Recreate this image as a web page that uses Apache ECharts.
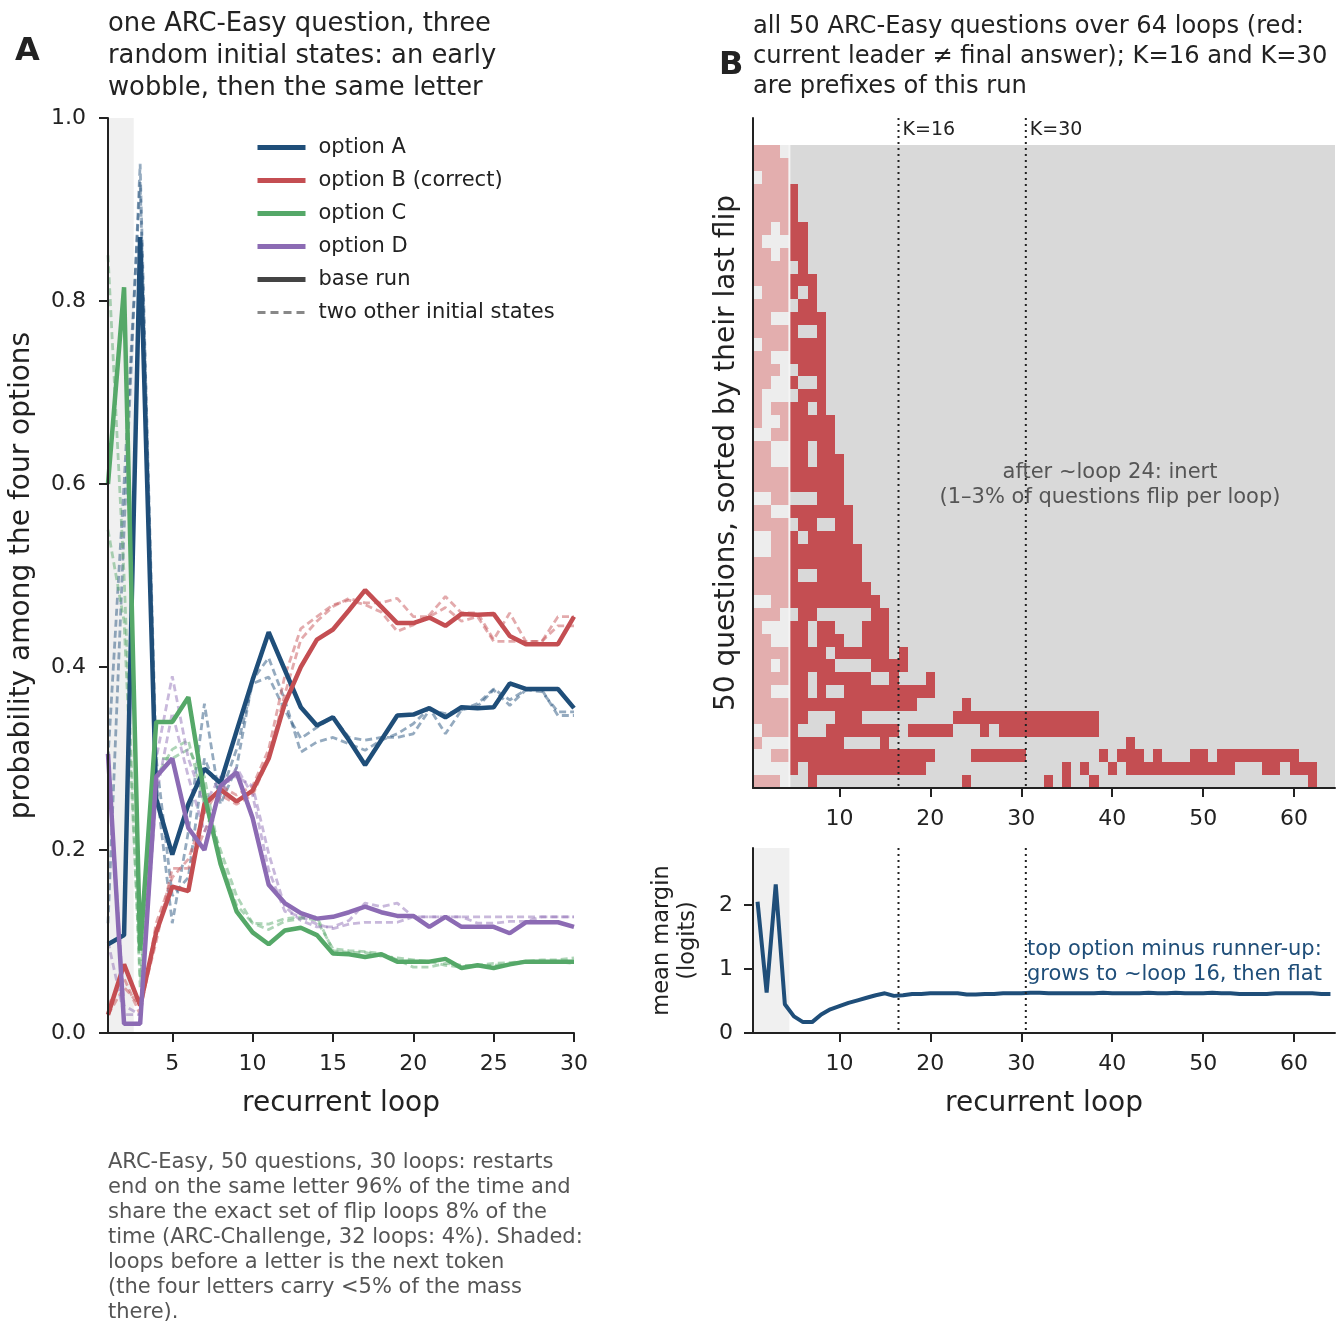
<!DOCTYPE html>
<html>
<head>
<meta charset="utf-8">
<script src="https://cdn.jsdelivr.net/npm/echarts@6/dist/echarts.min.js"></script>
<style>
  html, body { margin: 0; padding: 0; background: #fff; }
  #chart { width: 1344px; height: 1337px; }
</style>
</head>
<body>
<div id="chart"></div>
<script>
// ---- panel A: one question, 30 loops, base run + two restarts ----
const loopsA = [1, 2, 3, 4, 5, 6, 7, 8, 9, 10, 11, 12, 13, 14, 15, 16, 17, 18, 19, 20, 21, 22, 23, 24, 25, 26, 27, 28, 29, 30];
const optionNames = ['option A', 'option B (correct)', 'option C', 'option D'];

const baseA = [0.097, 0.107, 0.87, 0.256, 0.195, 0.25, 0.289, 0.273, 0.33, 0.386, 0.438, 0.397, 0.356, 0.336, 0.345, 0.32, 0.293, 0.32, 0.347, 0.348, 0.355, 0.345, 0.356, 0.355, 0.356, 0.382, 0.376, 0.376, 0.376, 0.355];
const baseB = [0.02, 0.075, 0.03, 0.11, 0.16, 0.155, 0.25, 0.266, 0.253, 0.265, 0.30, 0.36, 0.40, 0.43, 0.441, 0.462, 0.484, 0.466, 0.448, 0.448, 0.454, 0.445, 0.458, 0.457, 0.458, 0.434, 0.425, 0.425, 0.425, 0.455];
const baseC = [0.6, 0.815, 0.09, 0.34, 0.34, 0.367, 0.26, 0.185, 0.133, 0.11, 0.097, 0.112, 0.115, 0.107, 0.087, 0.086, 0.083, 0.086, 0.078, 0.078, 0.078, 0.081, 0.071, 0.074, 0.071, 0.075, 0.078, 0.078, 0.078, 0.078];
const baseD = [0.305, 0.01, 0.01, 0.28, 0.30, 0.224, 0.20, 0.27, 0.285, 0.235, 0.162, 0.142, 0.131, 0.125, 0.127, 0.132, 0.138, 0.132, 0.128, 0.128, 0.116, 0.127, 0.116, 0.116, 0.116, 0.109, 0.121, 0.121, 0.121, 0.116];

const restart1A = [0.12, 0.55, 0.95, 0.27, 0.12, 0.22, 0.36, 0.25, 0.29, 0.386, 0.41, 0.364, 0.307, 0.318, 0.323, 0.316, 0.309, 0.32, 0.327, 0.338, 0.355, 0.327, 0.353, 0.357, 0.375, 0.358, 0.375, 0.375, 0.347, 0.347];
const restart2A = [0.3, 0.6, 0.93, 0.3, 0.15, 0.17, 0.30, 0.26, 0.31, 0.382, 0.389, 0.353, 0.322, 0.334, 0.345, 0.323, 0.32, 0.323, 0.323, 0.327, 0.353, 0.349, 0.353, 0.36, 0.376, 0.364, 0.375, 0.373, 0.351, 0.351];
const restart1B = [0.03, 0.06, 0.02, 0.12, 0.17, 0.19, 0.24, 0.27, 0.26, 0.27, 0.31, 0.39, 0.442, 0.455, 0.468, 0.473, 0.468, 0.46, 0.439, 0.446, 0.457, 0.477, 0.459, 0.459, 0.43, 0.459, 0.428, 0.428, 0.455, 0.455];
const restart2B = [0.02, 0.05, 0.03, 0.10, 0.18, 0.18, 0.22, 0.26, 0.25, 0.26, 0.30, 0.37, 0.43, 0.45, 0.466, 0.475, 0.47, 0.47, 0.475, 0.455, 0.455, 0.465, 0.45, 0.455, 0.428, 0.428, 0.428, 0.428, 0.445, 0.445];
const restart1C = [0.85, 0.5, 0.05, 0.30, 0.30, 0.31, 0.28, 0.19, 0.14, 0.12, 0.119, 0.125, 0.127, 0.123, 0.092, 0.09, 0.089, 0.087, 0.08, 0.072, 0.072, 0.076, 0.074, 0.074, 0.076, 0.077, 0.078, 0.078, 0.078, 0.076];
const restart2C = [0.55, 0.45, 0.06, 0.28, 0.31, 0.32, 0.25, 0.20, 0.15, 0.12, 0.113, 0.122, 0.125, 0.127, 0.09, 0.088, 0.088, 0.084, 0.082, 0.08, 0.078, 0.074, 0.072, 0.073, 0.074, 0.075, 0.078, 0.08, 0.08, 0.082];
const restart1D = [0.1, 0.02, 0.02, 0.30, 0.39, 0.30, 0.25, 0.28, 0.28, 0.27, 0.196, 0.138, 0.123, 0.116, 0.116, 0.123, 0.142, 0.138, 0.142, 0.127, 0.127, 0.127, 0.127, 0.12, 0.12, 0.122, 0.122, 0.127, 0.127, 0.127];
const restart2D = [0.3, 0.03, 0.02, 0.26, 0.35, 0.28, 0.22, 0.26, 0.29, 0.26, 0.178, 0.133, 0.127, 0.119, 0.114, 0.119, 0.121, 0.121, 0.121, 0.127, 0.127, 0.127, 0.127, 0.127, 0.127, 0.127, 0.127, 0.127, 0.127, 0.127];

// ---- panel B: 50 questions x 64 loops, red runs [first loop, last loop] per row ----
const redRuns = [
  [[1, 3]],
  [[1, 4]],
  [[2, 4]],
  [[1, 5]],
  [[1, 5]],
  [[1, 5]],
  [[1, 2], [4, 6]],
  [[1, 1], [5, 6]],
  [[1, 2], [4, 6]],
  [[1, 4], [6, 6]],
  [[1, 7]],
  [[2, 5], [7, 7]],
  [[1, 4], [6, 7]],
  [[1, 2], [5, 8]],
  [[1, 5], [8, 8]],
  [[2, 8]],
  [[1, 2], [5, 8]],
  [[1, 3], [6, 8]],
  [[1, 2], [5, 5], [8, 8]],
  [[1, 1], [6, 8]],
  [[1, 1], [3, 6], [8, 8]],
  [[1, 1], [4, 9]],
  [[3, 9]],
  [[1, 2], [5, 6], [8, 9]],
  [[1, 2], [5, 6], [8, 10]],
  [[1, 10]],
  [[1, 10]],
  [[3, 4], [8, 10]],
  [[1, 2], [5, 11]],
  [[1, 4], [6, 7], [10, 11]],
  [[3, 5], [7, 11]],
  [[3, 12]],
  [[1, 12]],
  [[1, 5], [8, 12]],
  [[1, 13]],
  [[3, 14]],
  [[1, 3], [6, 7], [14, 15]],
  [[1, 1], [5, 6], [8, 9], [13, 15]],
  [[1, 2], [5, 6], [8, 10], [13, 15]],
  [[1, 8], [10, 15], [17, 17]],
  [[1, 2], [4, 9], [14, 17]],
  [[1, 6], [8, 13], [16, 16], [20, 20]],
  [[1, 2], [5, 6], [8, 8], [11, 20]],
  [[1, 18], [24, 24]],
  [[1, 6], [10, 12], [23, 38]],
  [[2, 5], [9, 16], [18, 22], [26, 26], [28, 38]],
  [[1, 1], [5, 10], [15, 15], [42, 42]],
  [[3, 20], [25, 30], [39, 39], [41, 43], [45, 45], [49, 50], [52, 60]],
  [[5, 5], [7, 19], [35, 35], [37, 37], [40, 40], [42, 53], [57, 58], [60, 62]],
  [[1, 3], [7, 7], [24, 24], [33, 33], [35, 35], [38, 38], [62, 62]],
];
const nLoopsB = 64;
const shadedLoopsB = 4;      // loops before a letter is the next token
const kLoops = [16, 30];
const kLabels = ['K=16', 'K=30'];

// mean margin (logits), loops 1..64
const meanMargin = [2.05, 0.63, 2.32, 0.45, 0.26, 0.17, 0.17, 0.29, 0.37, 0.42, 0.47, 0.51, 0.55, 0.59, 0.62, 0.58, 0.59, 0.61, 0.61, 0.62, 0.62, 0.62, 0.62, 0.60, 0.60, 0.61, 0.61, 0.62, 0.62, 0.62, 0.63, 0.63, 0.62, 0.62, 0.62, 0.62, 0.62, 0.62, 0.63, 0.62, 0.62, 0.62, 0.62, 0.63, 0.62, 0.62, 0.63, 0.62, 0.62, 0.62, 0.63, 0.62, 0.62, 0.61, 0.61, 0.61, 0.61, 0.62, 0.62, 0.62, 0.62, 0.62, 0.61, 0.61];

// ---- styling ----
const FONT = 'DejaVu Sans';
const INK = '#222';
const COLORS = ['#1f4e79', '#c44e52', '#55a868', '#8c6bb4'];
const RED = '#c44e52', RED_LIGHT = '#e3aeae', GRAY = '#d9d9d9', GRAY_LIGHT = '#ededed';

(function () {
  const chart = echarts.init(document.getElementById('chart'), null, { renderer: 'canvas' });

  const axisBase = {
    z: 10,
    axisLine: { show: true, onZero: false, lineStyle: { color: INK, width: 2 } },
    axisTick: { show: true, length: 9, lineStyle: { color: INK, width: 2 } },
    axisLabel: { color: INK, fontSize: 22, fontFamily: FONT, margin: 20 },
    splitLine: { show: false },
    nameTextStyle: { color: INK, fontFamily: FONT, fontSize: 28 },
  };
  const withTicks = (vals, extraLabel) => ({
    axisTick: Object.assign({}, axisBase.axisTick, { customValues: vals }),
    axisLabel: Object.assign({}, axisBase.axisLabel, { customValues: vals }, extraLabel || {}),
  });

  const bases = [baseA, baseB, baseC, baseD];
  const restarts = [[restart1A, restart2A], [restart1B, restart2B], [restart1C, restart2C], [restart1D, restart2D]];

  const series = [];
  // shaded early loops in panel A
  series.push({
    type: 'line', name: 'shadeA', xAxisIndex: 0, yAxisIndex: 0, z: 1, data: [], silent: true,
    markArea: { silent: true, itemStyle: { color: '#f0f0f0' }, data: [[{ xAxis: 1 }, { xAxis: 2.6 }]] },
  });
  restarts.forEach((pair, i) => {
    pair.forEach((vals, j) => {
      series.push({
        type: 'line', name: optionNames[i] + ' restart ' + (j + 1),
        xAxisIndex: 0, yAxisIndex: 0, z: 2,
        data: vals.map((v, k) => [loopsA[k], v]),
        symbol: 'none', silent: true,
        lineStyle: { color: COLORS[i], width: 2.8, type: [7, 4], opacity: 0.48 },
      });
    });
  });
  bases.forEach((vals, i) => {
    series.push({
      type: 'line', name: optionNames[i],
      xAxisIndex: 0, yAxisIndex: 0, z: 3,
      data: vals.map((v, k) => [loopsA[k], v]),
      symbol: 'none', color: COLORS[i],
      lineStyle: { color: COLORS[i], width: 4.5 },
    });
  });
  series.push({ type: 'line', name: 'base run', xAxisIndex: 0, yAxisIndex: 0, data: [], symbol: 'none',
    color: '#444', lineStyle: { color: '#444', width: 4.5 } });
  series.push({ type: 'line', name: 'two other initial states', xAxisIndex: 0, yAxisIndex: 0, data: [], symbol: 'none',
    color: '#888', lineStyle: { color: '#888', width: 3, type: [8, 5] } });

  // heatmap cells
  const cells = [];
  redRuns.forEach((runs, r) => {
    for (let loop = 1; loop <= nLoopsB; loop++) {
      const red = runs.some(([a, b]) => loop >= a && loop <= b) ? 1 : 0;
      cells.push([loop, r + 1, red]);
    }
  });
  series.push({
    type: 'custom', name: 'flips', xAxisIndex: 1, yAxisIndex: 1, z: 2, silent: true,
    data: cells,
    renderItem: function (params, api) {
      const x = api.value(0), y = api.value(1), red = api.value(2);
      const p0 = api.coord([x - 0.5, y - 0.5]);
      const p1 = api.coord([x + 0.5, y + 0.5]);
      const x0 = Math.round(Math.min(p0[0], p1[0])), x1 = Math.round(Math.max(p0[0], p1[0]));
      const y0 = Math.round(Math.min(p0[1], p1[1])), y1 = Math.round(Math.max(p0[1], p1[1]));
      const early = x <= shadedLoopsB;
      const fill = red ? (early ? RED_LIGHT : RED) : (early ? GRAY_LIGHT : GRAY);
      return { type: 'rect', shape: { x: x0, y: y0, width: x1 - x0, height: y1 - y0 }, style: { fill: fill } };
    },
  });
  // edge of the shaded band in the heatmap
  series.push({
    type: 'custom', name: 'shadeEdge', xAxisIndex: 1, yAxisIndex: 1, z: 3, silent: true,
    data: [[shadedLoopsB + 0.5]],
    renderItem: function (params, api) {
      const a = api.coord([api.value(0), 0.5]);
      const b = api.coord([api.value(0), redRuns.length + 0.5]);
      return { type: 'line', shape: { x1: a[0], y1: a[1], x2: b[0], y2: b[1] }, style: { stroke: '#f4f4f4', lineWidth: 2 } };
    },
  });
  // K markers (top panel with label, bottom panel line only)
  [1, 2].forEach((gi) => {
    series.push({
      type: 'custom', name: 'kmarks' + gi, xAxisIndex: gi, yAxisIndex: gi, z: 5, silent: true,
      data: kLoops.map((k, i) => [k + 0.5, i]),
      renderItem: function (params, api) {
        const cs = params.coordSys;
        const px = api.coord([api.value(0), 1])[0];
        const children = [{
          type: 'line',
          shape: { x1: px, y1: cs.y, x2: px, y2: cs.y + cs.height },
          style: { stroke: '#222', lineWidth: 2, lineDash: [2, 4] },
        }];
        if (gi === 1) {
          children.push({
            type: 'text', x: px + 4, y: cs.y + 12,
            style: { text: kLabels[api.value(1)], fill: INK, font: '19px "' + FONT + '"', textVerticalAlign: 'middle' },
          });
        }
        return { type: 'group', children: children };
      },
    });
  });
  // margin line
  series.push({
    type: 'line', name: 'mean margin', xAxisIndex: 2, yAxisIndex: 2, z: 3,
    data: meanMargin.map((v, i) => [i + 1, v]), symbol: 'none',
    lineStyle: { color: '#1f4e79', width: 4 },
    markArea: { silent: true, z: 1, itemStyle: { color: '#f0f0f0' }, data: [[{ xAxis: 0.5 }, { xAxis: shadedLoopsB + 0.5 }]] },
  });

  const text = (t, x, y, size, fill, extra) => ({
    type: 'text', x: x, y: y, silent: true, z: 100,
    style: Object.assign({ text: t, fill: fill || INK, font: size + 'px "' + FONT + '"' }, extra || {}),
  });

  chart.setOption({
    animation: false,
    backgroundColor: '#fff',
    textStyle: { fontFamily: FONT },
    grid: [
      { left: 108, top: 118, width: 466, height: 915 },
      { left: 753, top: 118, width: 582, height: 670 },
      { left: 753, top: 848, width: 582, height: 185 },
    ],
    xAxis: [
      Object.assign({}, axisBase, { gridIndex: 0, type: 'value', min: 1, max: 30, position: 'bottom',
        name: 'recurrent loop', nameLocation: 'middle', nameGap: 57 }, withTicks([5, 10, 15, 20, 25, 30])),
      Object.assign({}, axisBase, { gridIndex: 1, type: 'value', min: 0.5, max: 64.5, position: 'bottom' },
        withTicks([10, 20, 30, 40, 50, 60])),
      Object.assign({}, axisBase, { gridIndex: 2, type: 'value', min: 0.5, max: 64.5, position: 'bottom',
        name: 'recurrent loop', nameLocation: 'middle', nameGap: 57 }, withTicks([10, 20, 30, 40, 50, 60])),
    ],
    yAxis: [
      Object.assign({}, axisBase, { gridIndex: 0, type: 'value', min: 0, max: 1, interval: 0.2,
        axisLabel: Object.assign({}, axisBase.axisLabel, { margin: 22, formatter: (v) => v.toFixed(1) }),
        name: 'probability among the four options', nameLocation: 'middle', nameGap: 72 }),
      Object.assign({}, axisBase, { gridIndex: 1, type: 'value', min: -1.6, max: 50.5, inverse: true,
        axisTick: { show: false }, axisLabel: { show: false },
        name: '50 questions, sorted by their last flip', nameLocation: 'middle', nameGap: 12 }),
      Object.assign({}, axisBase, { gridIndex: 2, type: 'value', min: 0, max: 2.89,
        name: 'mean margin\n(logits)', nameLocation: 'middle', nameGap: 52,
        nameTextStyle: { color: INK, fontFamily: FONT, fontSize: 22.5, lineHeight: 26 } },
        withTicks([0, 1, 2], { margin: 20 })),
    ],
    legend: {
      orient: 'vertical', left: 255, top: 137, padding: 0,
      data: [
        { name: 'option A', lineStyle: { width: 5 } },
        { name: 'option B (correct)', lineStyle: { width: 5 } },
        { name: 'option C', lineStyle: { width: 5 } },
        { name: 'option D', lineStyle: { width: 5 } },
        { name: 'base run', lineStyle: { width: 5 } },
        { name: 'two other initial states', lineStyle: { width: 3 } },
      ],
      itemWidth: 48, itemHeight: 20, itemGap: 12,
      itemStyle: { opacity: 0 },
      textStyle: { color: INK, fontSize: 21, fontFamily: FONT, padding: [0, 0, 0, 8] },
      selectedMode: false,
    },
    graphic: [
      text('A', 15, 52, 32, INK, { font: 'bold 32px "' + FONT + '"', textVerticalAlign: 'middle' }),
      text('B', 719, 66, 32, INK, { font: 'bold 32px "' + FONT + '"', textVerticalAlign: 'middle' }),
      text('one ARC-Easy question, three\nrandom initial states: an early\nwobble, then the same letter', 108, 8, 25.8, INK,
        { lineHeight: 32, textVerticalAlign: 'top' }),
      text('all 50 ARC-Easy questions over 64 loops (red:\ncurrent leader \u2260 final answer); K=16 and K=30\nare prefixes of this run', 753, 12, 24.2, INK,
        { lineHeight: 30, textVerticalAlign: 'top' }),
      text('after ~loop 24: inert\n(1\u20133% of questions flip per loop)', 1110, 460, 21, '#555',
        { lineHeight: 25, textAlign: 'center', textVerticalAlign: 'top' }),
      text('top option minus runner-up:\ngrows to ~loop 16, then flat', 1027, 937, 21, '#1f4e79',
        { lineHeight: 25, textVerticalAlign: 'top' }),
      text('ARC-Easy, 50 questions, 30 loops: restarts\nend on the same letter 96% of the time and\nshare the exact set of flip loops 8% of the\ntime (ARC-Challenge, 32 loops: 4%). Shaded:\nloops before a letter is the next token\n(the four letters carry <5% of the mass\nthere).',
        108, 1150, 21, '#555', { lineHeight: 25, textVerticalAlign: 'top' }),
    ],
    series: series,
  });
})();
</script>
</body>
</html>
